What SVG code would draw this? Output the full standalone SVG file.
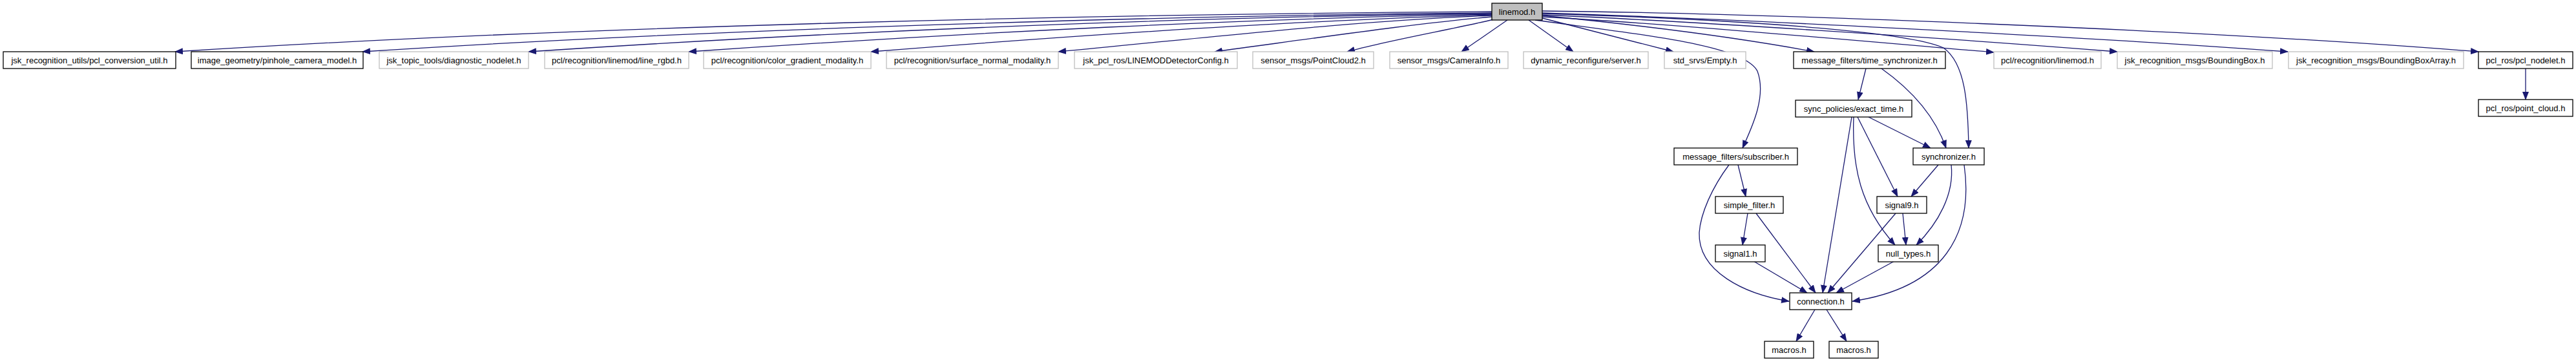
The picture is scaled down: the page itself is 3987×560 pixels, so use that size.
<svg xmlns="http://www.w3.org/2000/svg" width="3987" height="560" viewBox="0 0 3987 560">
<style>
.n rect{fill:#fff;stroke:#000;stroke-width:1.3}
.g rect{fill:#fff;stroke:#bfbfbf;stroke-width:1.3}
.r rect{fill:#bfbfbf;stroke:#000;stroke-width:1.3}
text{font-family:"Liberation Sans",Arial,Helvetica,sans-serif;font-size:13px;fill:#000;text-anchor:middle}
#edges path{fill:none;stroke:#191970;stroke-width:1.3;marker-end:url(#ah)}
</style>
<defs>
<marker id="ah" markerWidth="13" markerHeight="10" refX="12" refY="5" orient="auto" markerUnits="userSpaceOnUse">
<path d="M0,0 L13,5 L0,10 z" fill="#191970"/>
</marker>
</defs>
<rect width="3987" height="560" fill="#fff"/>
<g id="edges">
<path d="M2309,18 C1700,22 900,40 271,80"/>
<path d="M2309,20 C1800,24 1100,45 561,80"/>
<path d="M2309,21 C1850,26 1300,48 818,80"/>
<path d="M2309,22 C1950,28 1500,50 1066,80"/>
<path d="M2309,23 C2050,30 1700,52 1348,80"/>
<path d="M2309,24 C2100,32 1900,55 1638,80"/>
<path d="M2309,26 C2200,35 2050,57 1880,80"/>
<path d="M2312,30 C2250,45 2150,62 2085,80"/>
<path d="M2333,31 L2262,80"/>
<path d="M2366,31 L2435,80"/>
<path d="M2387,28 L2590,80"/>
<path d="M2387,24 C2550,40 2700,60 2808,80"/>
<path d="M2387,17 C2700,20 3400,45 3836,80"/>
<path d="M2387,20 C2650,28 3200,55 3541,80"/>
<path d="M2387,23 C2600,32 3000,58 3277,80"/>
<path d="M2387,26 C2600,38 2900,65 3086,81"/>
<path d="M2387,21 C2750,32 2960,52 3008,74 C3042,98 3046,160 3047,229"/>
<path d="M2376,31 C2550,55 2700,70 2720,110 C2735,150 2710,200 2697,229"/>
<path d="M2888,106 L2876,154"/>
<path d="M2912,106 C2960,140 2995,180 3012,229"/>
<path d="M2892,181 L2988,229"/>
<path d="M3909,106 L3909,154"/>
<path d="M2875,181 L2937,304"/>
<path d="M2869,181 C2866,260 2880,320 2933,379"/>
<path d="M2866,181 L2821,453"/>
<path d="M3000,255 L2958,304"/>
<path d="M3020,255 C3025,300 3000,345 2966,379"/>
<path d="M3040,255 C3055,360 3010,445 2867,466"/>
<path d="M2945,330 L2950,379"/>
<path d="M2934,330 L2829,453"/>
<path d="M2932,404 L2842,453"/>
<path d="M2690,255 L2702,304"/>
<path d="M2676,255 C2650,290 2632,330 2630,360 C2628,420 2700,455 2769,466"/>
<path d="M2705,330 L2697,379"/>
<path d="M2718,330 L2810,453"/>
<path d="M2714,404 L2797,453"/>
<path d="M2809,479 L2780,528"/>
<path d="M2827,479 L2858,528"/>
</g>
<g id="node_linemod" class="r"><rect x="2309" y="5" width="78" height="26"/><text x="2348" y="23">linemod.h</text></g>
<g id="node_pcl_conversion_util" class="n"><rect x="5" y="80" width="267" height="26"/><text x="138.5" y="98">jsk_recognition_utils/pcl_conversion_util.h</text></g>
<g id="node_pinhole_camera_model" class="n"><rect x="296" y="80" width="266" height="26"/><text x="429" y="98">image_geometry/pinhole_camera_model.h</text></g>
<g id="node_diagnostic_nodelet" class="g"><rect x="587" y="80" width="231" height="26"/><text x="702.5" y="98">jsk_topic_tools/diagnostic_nodelet.h</text></g>
<g id="node_line_rgbd" class="g"><rect x="843" y="80" width="223" height="26"/><text x="954.5" y="98">pcl/recognition/linemod/line_rgbd.h</text></g>
<g id="node_color_gradient_modality" class="g"><rect x="1089" y="80" width="259" height="26"/><text x="1218.5" y="98">pcl/recognition/color_gradient_modality.h</text></g>
<g id="node_surface_normal_modality" class="g"><rect x="1372" y="80" width="266" height="26"/><text x="1505" y="98">pcl/recognition/surface_normal_modality.h</text></g>
<g id="node_LINEMODDetectorConfig" class="g"><rect x="1663" y="80" width="252" height="26"/><text x="1789" y="98">jsk_pcl_ros/LINEMODDetectorConfig.h</text></g>
<g id="node_PointCloud2" class="g"><rect x="1939" y="80" width="187" height="26"/><text x="2032.5" y="98">sensor_msgs/PointCloud2.h</text></g>
<g id="node_CameraInfo" class="g"><rect x="2151" y="80" width="183" height="26"/><text x="2242.5" y="98">sensor_msgs/CameraInfo.h</text></g>
<g id="node_server" class="g"><rect x="2358" y="80" width="193" height="26"/><text x="2454.5" y="98">dynamic_reconfigure/server.h</text></g>
<g id="node_Empty" class="g"><rect x="2576" y="80" width="126" height="26"/><text x="2639" y="98">std_srvs/Empty.h</text></g>
<g id="node_time_synchronizer" class="n"><rect x="2776" y="80" width="235" height="26"/><text x="2893.5" y="98">message_filters/time_synchronizer.h</text></g>
<g id="node_pcl_linemod" class="g"><rect x="3086" y="80" width="166" height="26"/><text x="3169" y="98">pcl/recognition/linemod.h</text></g>
<g id="node_BoundingBox" class="g"><rect x="3277" y="80" width="240" height="26"/><text x="3397" y="98">jsk_recognition_msgs/BoundingBox.h</text></g>
<g id="node_BoundingBoxArray" class="g"><rect x="3542" y="80" width="271" height="26"/><text x="3677.5" y="98">jsk_recognition_msgs/BoundingBoxArray.h</text></g>
<g id="node_pcl_nodelet" class="n"><rect x="3836" y="80" width="146" height="26"/><text x="3909" y="98">pcl_ros/pcl_nodelet.h</text></g>
<g id="node_point_cloud" class="n"><rect x="3836" y="154" width="146" height="26"/><text x="3909" y="172">pcl_ros/point_cloud.h</text></g>
<g id="node_exact_time" class="n"><rect x="2779" y="155" width="180" height="26"/><text x="2869" y="173">sync_policies/exact_time.h</text></g>
<g id="node_subscriber" class="n"><rect x="2591" y="229" width="191" height="26"/><text x="2686.5" y="247">message_filters/subscriber.h</text></g>
<g id="node_synchronizer" class="n"><rect x="2961" y="229" width="110" height="26"/><text x="3016" y="247">synchronizer.h</text></g>
<g id="node_simple_filter" class="n"><rect x="2655" y="304" width="105" height="26"/><text x="2707.5" y="322">simple_filter.h</text></g>
<g id="node_signal9" class="n"><rect x="2905" y="304" width="77" height="26"/><text x="2943.5" y="322">signal9.h</text></g>
<g id="node_signal1" class="n"><rect x="2655" y="379" width="77" height="26"/><text x="2693.5" y="397">signal1.h</text></g>
<g id="node_null_types" class="n"><rect x="2907" y="379" width="93" height="26"/><text x="2953.5" y="397">null_types.h</text></g>
<g id="node_connection" class="n"><rect x="2770" y="453" width="96" height="26"/><text x="2818" y="471">connection.h</text></g>
<g id="node_macros1" class="n"><rect x="2731" y="528" width="76" height="26"/><text x="2769" y="546">macros.h</text></g>
<g id="node_macros2" class="n"><rect x="2831" y="528" width="76" height="26"/><text x="2869" y="546">macros.h</text></g>
</svg>
